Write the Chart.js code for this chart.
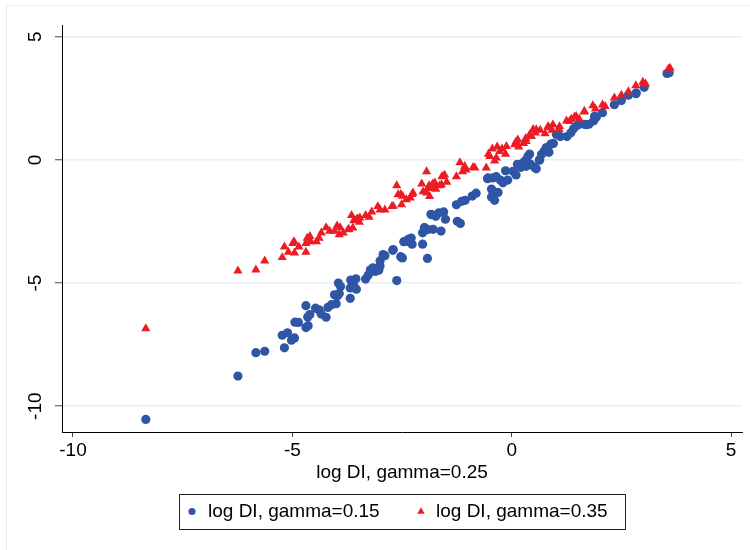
<!DOCTYPE html>
<html>
<head>
<meta charset="utf-8">
<script src="https://cdn.jsdelivr.net/npm/chart.js@4.4.1/dist/chart.umd.min.js"></script>
<style>
  body { margin: 0; background: #fff; }
  #wrap { width: 750px; height: 550px; }
</style>
</head>
<body>
<div id="wrap"><canvas id="myChart" width="750" height="550"></canvas></div>
<script>
// log DI, gamma=0.15 (blue circles)
var blueX = [-8.34, -6.24, -5.83, -5.63, -5.18, -5.23, -5.11, -5.02, -4.95, -4.94, -4.86, -4.69, -4.64, -4.65, -4.60,
  -4.69, -4.47, -4.39, -4.34, -4.23, -4.19, -4.11, -4.00, -3.97, -4.04, -3.93, -3.95, -3.90, -3.68, -3.68,
  -3.60, -3.54, -3.67, -3.55, -3.33, -3.27, -3.22, -3.16, -3.11, -3.03, -3.00, -3.00, -2.89, -2.71, -2.62,
  -2.53, -2.49, -2.46, -2.35, -2.27, -2.29, -2.03, -2.03, -1.99, -1.91, -1.79, -1.61, -1.92, -1.84, -1.73,
  -1.66, -1.55, -1.51, -1.24, -1.17, -1.26, -1.14, -1.06, -0.90, -0.81, -0.55, -0.46, -0.46, -0.39, -0.31,
  -0.35, -0.26, -0.20, -0.09, -0.14, 0.10, 0.13, 0.21, 0.30, 0.41, 0.43, 0.52, 0.56, 0.63, 0.74,
  0.79, 0.85, 0.89, 0.95, 1.11, 1.26, 1.35, 1.41, 1.50, 1.65, 1.76, 1.87, 1.93, 2.07, 2.34,
  2.50, 2.66, 2.83, 3.02, 3.54, 3.59, 0.33, 0.26, 0.18, 0.03, -0.43, -0.54, -0.43, 0.68, 0.37,
  1.02, 0.64, 1.70, 1.89, -1.83, -1.98, -2.36, -2.70, -2.93, 2.84];
var blueY = [-10.54, -8.78, -7.83, -7.77, -7.63, -7.12, -7.02, -7.32, -7.23, -6.59, -6.60, -6.81, -6.73, -6.38, -6.28,
  -5.92, -6.02, -6.09, -6.26, -6.39, -5.99, -5.88, -5.84, -5.52, -5.48, -5.42, -5.00, -5.14, -5.62, -5.20,
  -5.10, -5.25, -4.88, -4.83, -4.84, -4.67, -4.46, -4.38, -4.53, -4.48, -4.31, -4.10, -3.89, -3.67, -4.90,
  -3.93, -3.98, -3.32, -3.32, -3.42, -3.17, -3.42, -2.96, -2.75, -2.83, -2.82, -2.89, -4.00, -2.21, -2.29,
  -2.15, -2.11, -2.41, -2.49, -2.58, -1.82, -1.68, -1.64, -1.47, -1.35, -0.76, -1.18, -1.51, -1.64, -1.32,
  -0.68, -0.82, -0.93, -0.82, -0.44, -0.61, -0.18, -0.30, -0.04, 0.24, -0.18, -0.30, -0.36, -0.01, 0.36,
  0.50, 0.31, 0.64, 0.67, 0.95, 0.95, 1.10, 1.27, 1.41, 1.45, 1.45, 1.59, 1.74, 1.92, 2.24,
  2.41, 2.63, 2.69, 2.95, 3.51, 3.54, -0.26, -0.12, -0.19, -0.46, -0.73, -0.73, -1.27, 0.22, 0.15,
  1.03, 0.01, 1.43, 1.77, -2.22, -2.76, -3.23, -3.64, -3.84, 2.72];

// log DI, gamma=0.35 (red triangles)
var redX = [-8.34, -6.24, -5.83, -5.63, -5.23, -5.18, -5.09, -4.99, -4.96, -4.95, -4.85, -4.69, -4.66, -4.60, -4.69,
  -4.58, -4.45, -4.39, -4.34, -4.23, -4.15, -4.04, -3.98, -3.93, -3.91, -3.71, -3.65, -3.60, -3.51, -3.47,
  -3.33, -3.25, -3.19, -3.05, -3.00, -2.89, -2.73, -2.62, -2.53, -2.49, -2.40, -2.31, -2.27, -2.05, -2.02,
  -1.94, -1.88, -1.80, -1.73, -1.64, -1.59, -1.53, -1.48, -1.26, -1.18, -1.12, -1.04, -0.88, -0.53, -0.44,
  -0.33, -0.39, -0.22, -0.14, 0.10, 0.16, 0.27, 0.32, 0.41, 0.49, 0.54, 0.65, 0.76, 0.85, 0.92,
  1.08, 1.25, 1.36, 1.43, 1.54, 1.65, 1.85, 1.91, 2.07, 2.13, 2.34, 2.50, 2.66, 2.83, 2.99,
  3.05, 3.57, 3.61, -1.56, -1.60, -1.75, -1.79, -1.91, -1.94, -1.87, -2.25, -2.59, -2.51, -3.46,
  -3.54, -3.62, -3.73, -3.84, -2.70, 0.45, 0.33, 0.14, 0.07, -0.12, -0.27, -0.50, -0.35, -0.58,
  -0.84, -1.07, 0.94, 0.83, 0.56, 1.09, 1.32, 1.47, 1.66];
var redY = [-6.85, -4.50, -4.46, -4.10, -3.96, -3.53, -3.74, -3.39, -3.32, -3.77, -3.53, -3.74, -3.17, -3.10, -3.39,
  -3.32, -3.32, -3.17, -2.96, -2.75, -2.89, -2.89, -2.68, -3.03, -2.75, -2.82, -2.25, -2.46, -2.39, -2.53,
  -2.25, -2.32, -2.11, -1.89, -2.03, -2.03, -1.89, -1.04, -1.40, -1.47, -1.61, -1.54, -1.40, -0.97, -1.29,
  -0.47, -1.04, -0.97, -1.18, -1.04, -0.68, -0.61, -0.90, -0.68, -0.11, -0.47, -0.40, -0.30, 0.24, 0.45,
  0.53, -0.04, 0.45, 0.24, 0.74, 0.53, 0.67, 0.88, 1.03, 1.24, 1.10, 1.21, 1.07, 1.31, 1.21,
  1.24, 1.59, 1.66, 1.74, 1.66, 1.95, 2.21, 2.07, 2.24, 2.18, 2.52, 2.63, 2.78, 3.02, 3.16,
  3.09, 3.69, 3.73, -0.66, -1.00, -0.93, -1.14, -1.14, -1.34, -1.48, -1.34, -1.41, -1.81, -2.35,
  -2.42, -2.76, -2.83, -2.96, -1.88, 0.96, 0.75, 0.82, 0.62, 0.55, 0.35, 0.15, 0.08, -0.32,
  -0.32, -0.26, 1.43, 1.36, 1.23, 1.36, 1.57, 1.77, 1.97];

var xTicks = [-10, -5, 0, 5];
var yTicks = [-10, -5, 0, 5];
var seriesNames = ['log DI, gamma=0.15', 'log DI, gamma=0.35'];
var xTitle = 'log DI, gamma=0.25';

var BLUE = '#2f55a5';
var RED = '#ed1c24';
var FONT = '"Liberation Sans", Arial, sans-serif';
var FSIZE = 19;

function toPoints(xs, ys) {
  return xs.map(function (x, i) { return { x: x, y: ys[i] }; });
}

// light outer frame of the graph region
var frame = {
  id: 'frame',
  beforeDraw: function (chart) {
    var ctx = chart.ctx;
    ctx.save();
    ctx.fillStyle = '#fff';
    ctx.fillRect(0, 0, chart.width, chart.height);
    ctx.strokeStyle = '#e8eef1';
    ctx.lineWidth = 1;
    ctx.strokeRect(6.5, 5.5, 780, 600);
    ctx.restore();
  }
};

// rotated y tick labels, Stata style
var yLabels = {
  id: 'yLabels',
  afterDraw: function (chart) {
    var ctx = chart.ctx;
    var s = chart.scales.y;
    ctx.save();
    ctx.fillStyle = '#000';
    ctx.font = FSIZE + 'px ' + FONT;
    ctx.textAlign = 'center';
    ctx.textBaseline = 'middle';
    s.ticks.forEach(function (t) {
      ctx.save();
      ctx.translate(36, s.getPixelForValue(t.value));
      ctx.rotate(-Math.PI / 2);
      ctx.fillText(String(t.value), 0, 0);
      ctx.restore();
    });
    ctx.restore();
  }
};

// boxed legend under the axis title
var legendBox = {
  id: 'legendBox',
  afterDraw: function (chart) {
    var ctx = chart.ctx;
    var a = chart.chartArea;
    var cx = (a.left + a.right) / 2;
    var top = 494, h = 35, w = 446;
    var left = cx - w / 2;
    var mid = top + h / 2;
    ctx.save();
    ctx.strokeStyle = '#222';
    ctx.lineWidth = 1;
    ctx.strokeRect(Math.round(left) + 0.5, top + 0.5, w, h);

    ctx.fillStyle = BLUE;
    ctx.beginPath();
    ctx.arc(left + 13, mid, 3.6, 0, Math.PI * 2);
    ctx.fill();

    ctx.fillStyle = RED;
    var tx = left + 242, r = 4.3;
    ctx.beginPath();
    ctx.moveTo(tx, mid - r);
    ctx.lineTo(tx + r * 0.866, mid + r * 0.5);
    ctx.lineTo(tx - r * 0.866, mid + r * 0.5);
    ctx.closePath();
    ctx.fill();

    ctx.fillStyle = '#000';
    ctx.font = FSIZE + 'px ' + FONT;
    ctx.textAlign = 'left';
    ctx.textBaseline = 'middle';
    ctx.fillText(seriesNames[0], left + 29, mid);
    ctx.fillText(seriesNames[1], left + 257, mid);
    ctx.restore();
  }
};

new Chart('myChart', {
  type: 'scatter',
  data: {
    datasets: [
      {
        label: seriesNames[0],
        data: toPoints(blueX, blueY),
        backgroundColor: BLUE,
        borderWidth: 0,
        pointRadius: 4.6,
        pointStyle: 'circle',
        order: 2,
      },
      {
        label: seriesNames[1],
        data: toPoints(redX, redY),
        backgroundColor: RED,
        borderWidth: 0,
        pointRadius: 5.3,
        pointStyle: 'triangle',
        order: 1,
      },
    ],
  },
  options: {
    responsive: false,
    animation: false,
    layout: { padding: { left: 0, right: 8, top: 25, bottom: 66 } },
    plugins: {
      legend: { display: false },
      tooltip: { enabled: false },
    },
    scales: {
      x: {
        type: 'linear',
        min: -10.25,
        max: 5.25,
        afterBuildTicks: function (s) { s.ticks = xTicks.map(function (v) { return { value: v }; }); },
        afterFit: function (s) { s.height = 52; },
        grid: { drawOnChartArea: false, tickLength: 5, tickColor: '#444', tickWidth: 1 },
        border: { color: '#000', width: 1 },
        ticks: {
          color: '#000',
          padding: 2,
          maxRotation: 0,
          font: { family: FONT, size: FSIZE },
          callback: function (v) { return String(v); },
        },
        title: {
          display: true,
          text: xTitle,
          color: '#000',
          padding: { top: 0, bottom: 0 },
          font: { family: FONT, size: FSIZE },
        },
      },
      y: {
        type: 'linear',
        min: -11.05,
        max: 5.48,
        afterBuildTicks: function (s) { s.ticks = yTicks.map(function (v) { return { value: v }; }); },
        afterFit: function (s) { s.width = 62; },
        grid: { color: '#e9f0f2', lineWidth: 1.5, tickLength: 7, tickColor: '#444', tickWidth: 1 },
        border: { color: '#000', width: 1 },
        ticks: { display: false },
      },
    },
  },
  plugins: [frame, yLabels, legendBox],
});
</script>
</body>
</html>
